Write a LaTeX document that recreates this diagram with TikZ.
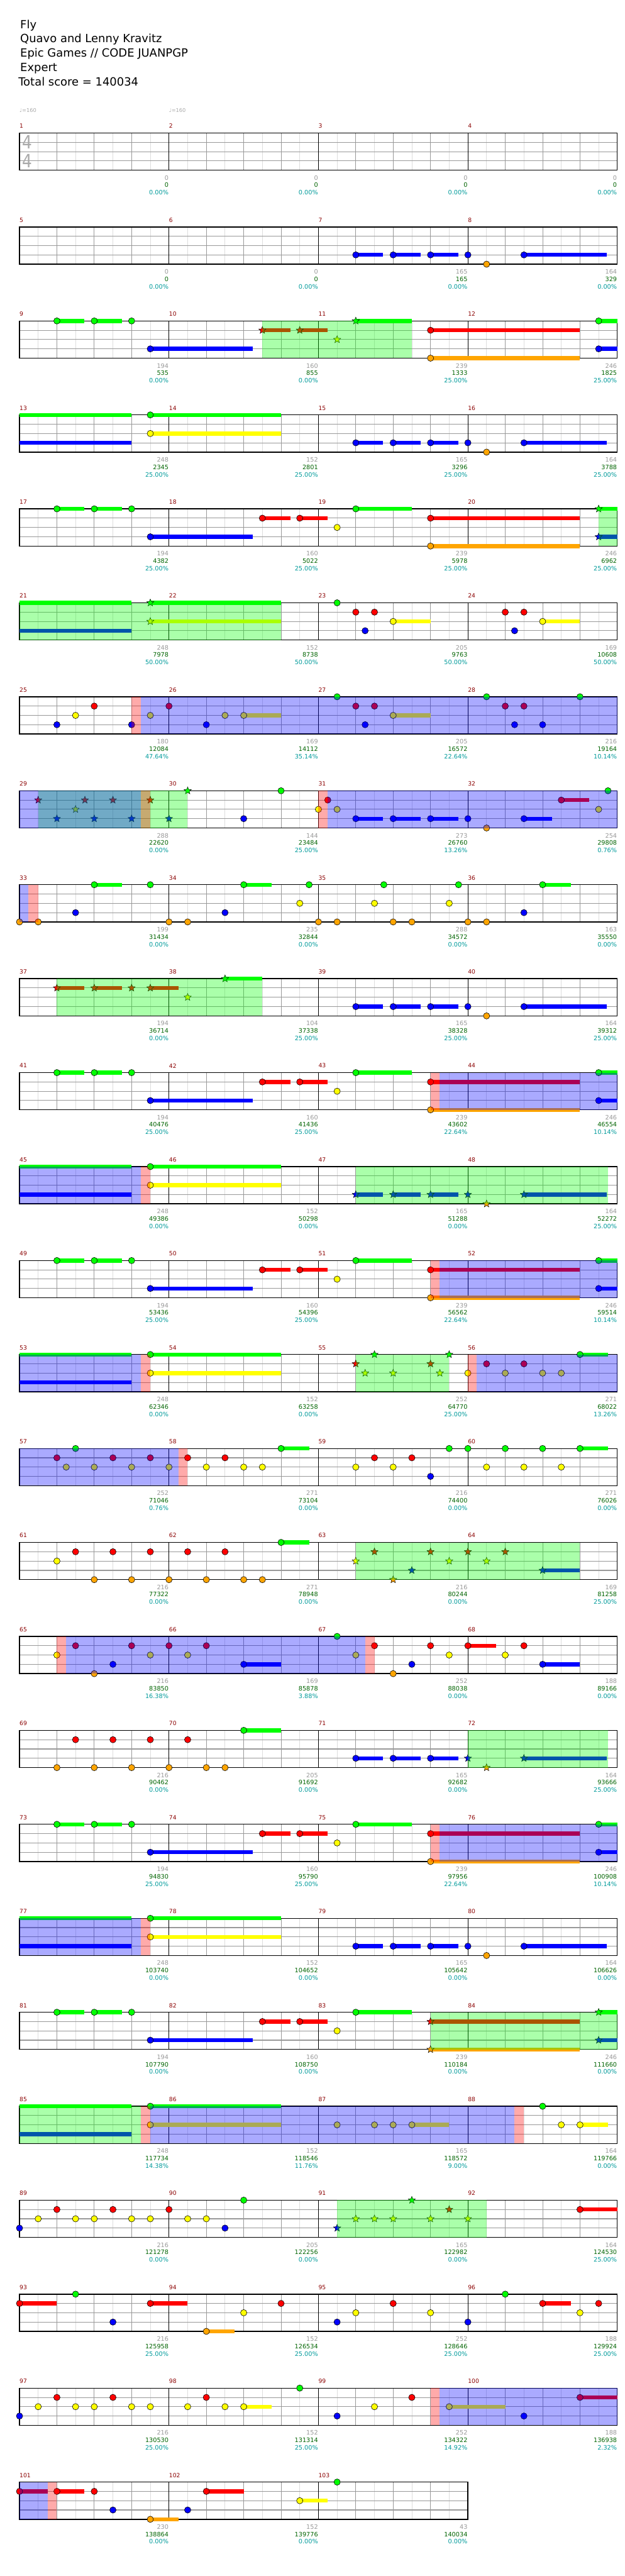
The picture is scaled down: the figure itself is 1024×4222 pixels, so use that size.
\documentclass[tikz,border=0pt]{standalone}
\usepackage{fontspec}
\setmainfont{DejaVu Sans}
\usetikzlibrary{shapes.geometric}
\definecolor{L0}{HTML}{00FF00}
\definecolor{L1}{HTML}{FF0000}
\definecolor{L2}{HTML}{FFFF00}
\definecolor{L3}{HTML}{0000FF}
\definecolor{L4}{HTML}{FFA500}
\definecolor{mred}{HTML}{8B0000}
\definecolor{ngr}{HTML}{999999}
\definecolor{ngn}{HTML}{006400}
\definecolor{ncy}{HTML}{009B9B}
\definecolor{lgrid}{HTML}{DDDDDD}
\definecolor{mgrid}{HTML}{999999}
\definecolor{tsig}{HTML}{AAAAAA}
\tikzset{
 eighthline/.style={draw=lgrid,line width=0.8pt},
 beatline/.style={draw=mgrid,line width=0.9pt},
 barline/.style={draw=black,line width=0.8pt},
 laneline/.style={draw=mgrid,line width=1.1pt},
 staffborder/.style={draw=black,line width=1.4pt},
 notestyle/.style={draw=black,line width=0.6pt},
 starnote/.style={star,star points=5,star point ratio=2.3,minimum size=12.5pt,inner sep=0pt,draw=black,line width=0.5pt},
 mlab/.style={anchor=west,inner sep=0pt,text=mred,font=\fontsize{9.5}{11}\selectfont},
 numg/.style={anchor=east,inner sep=0pt,text=ngr,font=\fontsize{10}{12}\selectfont},
 numn/.style={numg,text=ngn},
 numc/.style={numg,text=ncy},
 hdr/.style={anchor=base west,inner sep=0pt,font=\fontsize{18.5}{22}\selectfont},
 tempo/.style={anchor=west,inner sep=0pt,text=tsig,font=\fontsize{8.5}{10}\selectfont},
 tsigstyle/.style={inner sep=0pt,text=tsig,xscale=0.85,font=\fontsize{30}{30}\selectfont},
}
\newcommand\XE[1]{32+30.625*(#1)}
\newcommand\LY[1]{218+15.25*(#1)}
\newcommand\nt[2]{\draw[notestyle,fill=L#2] ({\XE{#1}},{\LY{#2}}) circle[radius=5.2pt];}
\newcommand\cont[3]{\fill[L#2] ({\XE{#1}},{\LY{#2}-3.3}) rectangle ({\XE{#3}},{\LY{#2}+3.3});}
\newcommand\ns[3]{\cont{#1}{#2}{#3}\nt{#1}{#2}}
\newcommand\st[2]{\node[starnote,fill=L#2] at ({\XE{#1}},{\LY{#2}}) {};}
\newcommand\sst[3]{\cont{#1}{#2}{#3}\st{#1}{#2}}
\newcommand\spz[2]{\fill[L0,fill opacity=0.333] ({\XE{#1}},218) rectangle ({\XE{#2}},279);}
\newcommand\act[2]{\fill[L3,fill opacity=0.333] ({\XE{#1}},218) rectangle ({\XE{#2}},279);}
\newcommand\pk[2]{\fill[L1,fill opacity=0.333] ({\XE{#1}},218) rectangle ({\XE{#2}},279);}
\newcommand\mn[4]{\node[numg] at ({32+245*#1-0.5},291.4) {#2};\node[numn] at ({32+245*#1-0.5},303.4) {#3};\node[numc] at ({32+245*#1-0.5},315.7) {#4\%};}
\newcommand\bluerun{\ns{18}{3}{19.46}\ns{20}{3}{21.48}\ns{22}{3}{23.49}\nt{24}{3}\nt{25}{4}\ns{27}{3}{31.45}}
\newcommand\patA{\ns{2}{0}{3.46}\ns{4}{0}{5.49}\nt{6}{0}\ns{7}{3}{12.5}\ns{13}{1}{14.5}\ns{15}{1}{16.48}\nt{17}{2}\ns{18}{0}{21}}
\newcommand\staff[2]{%
 \pgfmathtruncatemacro\nE{8*#1}%
 \pgfmathtruncatemacro\nEm{8*#1-1}%
 \pgfmathtruncatemacro\nM{#1-1}%
 \foreach \i in {1,...,\nEm}{%
   \pgfmathtruncatemacro\rr{mod(\i,8)}%
   \pgfmathtruncatemacro\rb{mod(\i,2)}%
   \ifnum\rr=0 \else
     \ifnum\rb=1 \draw[eighthline] ({\XE{\i}},218) -- ({\XE{\i}},279);%
     \else \draw[beatline] ({\XE{\i}},218) -- ({\XE{\i}},279);\fi
   \fi}%
 \foreach \l in {1,2,3}{\draw[laneline] (32,{\LY{\l}}) -- ({\XE{\nE}},{\LY{\l}});}%
 \foreach \j in {1,...,\nM}{\draw[barline] ({32+245*\j},218) -- ({32+245*\j},279);}%
 \draw[staffborder] (32,218) rectangle ({\XE{\nE}},279);%
 \foreach \j in {1,...,#1}{\pgfmathtruncatemacro\mm{#2+\j-1}\node[mlab] at ({32+245*(\j-1)},206.7) {\mm};}%
}
\begin{document}
\begin{tikzpicture}[x=1pt,y=-1pt]
\fill[white] (0,0) rectangle (1024,4222);
\useasboundingbox (0,0) rectangle (1024,4222);
\node[hdr] at (33,46.7) {Fly};
\node[hdr] at (33,70) {Quavo and Lenny Kravitz};
\node[hdr] at (33,93.5) {Epic Games // CODE JUANPGP};
\node[hdr] at (33,117) {Expert};
\node[hdr] at (30,140.5) {Total score = 140034};
\node[tempo] at (32,181) {♩=160};
\node[tempo] at (277,181) {♩=160};
% row 0
\begin{scope}[shift={(0,0)}]\staff{4}{1}
\node[tsigstyle] at (45,233) {4};\node[tsigstyle] at (45,264) {4};
\mn{1}{0}{0}{0.00}\mn{2}{0}{0}{0.00}\mn{3}{0}{0}{0.00}\mn{4}{0}{0}{0.00}
\end{scope}
% row 1
\begin{scope}[shift={(0,154)}]\staff{4}{5}
\bluerun
\mn{1}{0}{0}{0.00}\mn{2}{0}{0}{0.00}\mn{3}{165}{165}{0.00}\mn{4}{164}{329}{0.00}
\end{scope}
% row 2
\begin{scope}[shift={(0,308)}]\staff{4}{9}
\ns{2}{0}{3.46}\ns{4}{0}{5.49}\nt{6}{0}\ns{7}{3}{12.5}
\sst{13}{1}{14.5}\sst{15}{1}{16.48}\st{17}{2}\sst{18}{0}{21}
\ns{22}{1}{30}\ns{22}{4}{30}\ns{31}{0}{32}\ns{31}{3}{32}
\spz{13}{21}
\mn{1}{194}{535}{0.00}\mn{2}{160}{855}{0.00}\mn{3}{239}{1333}{25.00}\mn{4}{246}{1825}{25.00}
\end{scope}
% row 3
\begin{scope}[shift={(0,462)}]\staff{4}{13}
\cont{0}{0}{6}\cont{0}{3}{6}\ns{7}{0}{14}\ns{7}{2}{14}
\bluerun
\mn{1}{248}{2345}{25.00}\mn{2}{152}{2801}{25.00}\mn{3}{165}{3296}{25.00}\mn{4}{164}{3788}{25.00}
\end{scope}
% row 4
\begin{scope}[shift={(0,616)}]\staff{4}{17}
\patA
\ns{22}{1}{30}\ns{22}{4}{30}\sst{31}{0}{32}\sst{31}{3}{32}
\spz{31}{32}
\mn{1}{194}{4382}{25.00}\mn{2}{160}{5022}{25.00}\mn{3}{239}{5978}{25.00}\mn{4}{246}{6962}{25.00}
\end{scope}
% row 5
\begin{scope}[shift={(0,770)}]\staff{4}{21}
\cont{0}{0}{6}\cont{0}{3}{6}\sst{7}{0}{14}\sst{7}{2}{14}
\nt{17}{0}\nt{18}{1}\nt{19}{1}\nt{18.5}{3}\ns{20}{2}{22}
\nt{26}{1}\nt{27}{1}\nt{26.5}{3}\ns{28}{2}{30}
\spz{0}{14}
\mn{1}{248}{7978}{50.00}\mn{2}{152}{8738}{50.00}\mn{3}{205}{9763}{50.00}\mn{4}{169}{10608}{50.00}
\end{scope}
% row 6
\begin{scope}[shift={(0,924)}]\staff{4}{25}
\nt{2}{3}\nt{3}{2}\nt{4}{1}\nt{6}{3}\nt{7}{2}\nt{8}{1}\nt{10}{3}\nt{11}{2}\ns{12}{2}{14}
\nt{17}{0}\nt{18}{1}\nt{19}{1}\nt{18.5}{3}\ns{20}{2}{22}
\nt{25}{0}\nt{26}{1}\nt{27}{1}\nt{26.5}{3}\nt{28}{3}\nt{30}{0}
\pk{6}{6.48}\act{6.48}{32}
\mn{1}{180}{12084}{47.64}\mn{2}{169}{14112}{35.14}\mn{3}{205}{16572}{22.64}\mn{4}{216}{19164}{10.14}
\end{scope}
% row 7
\begin{scope}[shift={(0,1078)}]\staff{4}{29}
\st{1}{1}\st{2}{3}\st{3}{2}\st{3.5}{1}\st{4}{3}\st{5}{1}\st{6}{3}\st{7}{1}\st{8}{3}\st{9}{0}
\nt{12}{3}\nt{14}{0}\nt{16}{2}\nt{16.5}{1}\nt{17}{2}
\ns{18}{3}{19.46}\ns{20}{3}{21.48}\ns{22}{3}{23.49}\nt{24}{3}\nt{25}{4}\ns{27}{3}{28.5}\ns{29}{1}{30.5}\nt{31}{2}\nt{31.5}{0}
\spz{1}{9}\act{0}{6.5}\pk{6.5}{7}\pk{16}{16.48}\act{16.48}{32}
\mn{1}{288}{22620}{0.00}\mn{2}{144}{23484}{25.00}\mn{3}{273}{26760}{13.26}\mn{4}{254}{29808}{0.76}
\end{scope}
% row 8
\begin{scope}[shift={(0,1232)}]\staff{4}{33}
\nt{0}{4}\nt{1}{4}\nt{3}{3}\ns{4}{0}{5.49}\nt{7}{0}\nt{8}{4}\nt{9}{4}\nt{11}{3}\ns{12}{0}{13.5}
\nt{15}{2}\nt{15.5}{0}\nt{16}{4}\nt{17}{4}\nt{19}{2}\nt{19.5}{0}\nt{20}{4}\nt{21}{4}
\nt{23}{2}\nt{23.5}{0}\nt{24}{4}\nt{25}{4}\nt{27}{3}\ns{28}{0}{29.5}
\act{0}{0.48}\pk{0.48}{1}
\mn{1}{199}{31434}{0.00}\mn{2}{235}{32844}{0.00}\mn{3}{288}{34572}{0.00}\mn{4}{163}{35550}{0.00}
\end{scope}
% row 9
\begin{scope}[shift={(0,1386)}]\staff{4}{37}
\sst{2}{1}{3.46}\sst{4}{1}{5.49}\st{6}{1}\sst{7}{1}{8.5}\st{9}{2}\sst{11}{0}{13}
\bluerun
\spz{2}{13}
\mn{1}{194}{36714}{0.00}\mn{2}{104}{37338}{25.00}\mn{3}{165}{38328}{25.00}\mn{4}{164}{39312}{25.00}
\end{scope}
% row 10
\begin{scope}[shift={(0,1540)}]\staff{4}{41}
\patA
\ns{22}{1}{30}\ns{22}{4}{30}\ns{31}{0}{32}\ns{31}{3}{32}
\pk{22}{22.48}\act{22.48}{32}
\mn{1}{194}{40476}{25.00}\mn{2}{160}{41436}{25.00}\mn{3}{239}{43602}{22.64}\mn{4}{246}{46554}{10.14}
\end{scope}
% row 11
\begin{scope}[shift={(0,1694)}]\staff{4}{45}
\cont{0}{0}{6}\cont{0}{3}{6}\ns{7}{0}{14}\ns{7}{2}{14}
\sst{18}{3}{19.46}\sst{20}{3}{21.48}\sst{22}{3}{23.49}\st{24}{3}\st{25}{4}\sst{27}{3}{31.45}
\act{0}{6.5}\pk{6.5}{7}\spz{18}{31.5}
\mn{1}{248}{49386}{0.00}\mn{2}{152}{50298}{0.00}\mn{3}{165}{51288}{0.00}\mn{4}{164}{52272}{25.00}
\end{scope}
% row 12
\begin{scope}[shift={(0,1848)}]\staff{4}{49}
\patA
\ns{22}{1}{30}\ns{22}{4}{30}\ns{31}{0}{32}\ns{31}{3}{32}
\pk{22}{22.48}\act{22.48}{32}
\mn{1}{194}{53436}{25.00}\mn{2}{160}{54396}{25.00}\mn{3}{239}{56562}{22.64}\mn{4}{246}{59514}{10.14}
\end{scope}
% row 13
\begin{scope}[shift={(0,2002)}]\staff{4}{53}
\cont{0}{0}{6}\cont{0}{3}{6}\ns{7}{0}{14}\ns{7}{2}{14}
\st{18}{1}\st{18.5}{2}\st{19}{0}\st{20}{2}\st{22}{1}\st{22.5}{2}\st{23}{0}
\nt{24}{2}\nt{25}{1}\nt{26}{2}\nt{27}{1}\nt{28}{2}\nt{29}{2}\ns{30}{0}{31.5}
\act{0}{6.5}\pk{6.5}{7}\spz{18}{23}\pk{24}{24.48}\act{24.48}{32}
\mn{1}{248}{62346}{0.00}\mn{2}{152}{63258}{0.00}\mn{3}{252}{64770}{25.00}\mn{4}{271}{68022}{13.26}
\end{scope}
% row 14
\begin{scope}[shift={(0,2156)}]\staff{4}{57}
\nt{2}{1}\nt{2.5}{2}\nt{3}{0}\nt{4}{2}\nt{5}{1}\nt{6}{2}\nt{7}{1}\nt{8}{2}\nt{9}{1}\nt{10}{2}\nt{11}{1}\nt{12}{2}\nt{13}{2}\ns{14}{0}{15.5}
\nt{18}{2}\nt{19}{1}\nt{20}{2}\nt{21}{1}\nt{22}{3}\nt{23}{0}\nt{24}{0}\nt{25}{2}\nt{26}{0}\nt{27}{2}\nt{28}{0}\nt{29}{2}\ns{30}{0}{31.5}
\act{0}{8.5}\pk{8.5}{9}
\mn{1}{252}{71046}{0.76}\mn{2}{271}{73104}{0.00}\mn{3}{216}{74400}{0.00}\mn{4}{271}{76026}{0.00}
\end{scope}
% row 15
\begin{scope}[shift={(0,2310)}]\staff{4}{61}
\nt{2}{2}\nt{3}{1}\nt{4}{4}\nt{5}{1}\nt{6}{4}\nt{7}{1}\nt{8}{4}\nt{9}{1}\nt{10}{4}\nt{11}{1}\nt{12}{4}\nt{13}{4}\ns{14}{0}{15.5}
\st{18}{2}\st{19}{1}\st{20}{4}\st{21}{3}\st{22}{1}\st{23}{2}\st{24}{1}\st{25}{2}\st{26}{1}\sst{28}{3}{30}
\spz{18}{30}
\mn{1}{216}{77322}{0.00}\mn{2}{271}{78948}{0.00}\mn{3}{216}{80244}{0.00}\mn{4}{169}{81258}{25.00}
\end{scope}
% row 16
\begin{scope}[shift={(0,2464)}]\staff{4}{65}
\nt{2}{2}\nt{3}{1}\nt{4}{4}\nt{5}{3}\nt{6}{1}\nt{7}{2}\nt{8}{1}\nt{9}{2}\nt{10}{1}\ns{12}{3}{14}
\nt{17}{0}\nt{18}{2}\nt{19}{1}\nt{20}{4}\nt{21}{3}\nt{22}{1}\nt{23}{2}\ns{24}{1}{25.5}\nt{26}{2}\nt{27}{1}\ns{28}{3}{30}
\pk{2}{2.48}\act{2.48}{18.5}\pk{18.5}{19}
\mn{1}{216}{83850}{16.38}\mn{2}{169}{85878}{3.88}\mn{3}{252}{88038}{0.00}\mn{4}{188}{89166}{0.00}
\end{scope}
% row 17
\begin{scope}[shift={(0,2618)}]\staff{4}{69}
\nt{2}{4}\nt{3}{1}\nt{4}{4}\nt{5}{1}\nt{6}{4}\nt{7}{1}\nt{8}{4}\nt{9}{1}\nt{10}{4}\nt{11}{4}\ns{12}{0}{14}
\ns{18}{3}{19.46}\ns{20}{3}{21.48}\ns{22}{3}{23.49}\st{24}{3}\st{25}{4}\sst{27}{3}{31.45}
\spz{24}{31.5}
\mn{1}{216}{90462}{0.00}\mn{2}{205}{91692}{0.00}\mn{3}{165}{92682}{0.00}\mn{4}{164}{93666}{25.00}
\end{scope}
% row 18
\begin{scope}[shift={(0,2772)}]\staff{4}{73}
\patA
\ns{22}{1}{30}\ns{22}{4}{30}\ns{31}{0}{32}\ns{31}{3}{32}
\pk{22}{22.48}\act{22.48}{32}
\mn{1}{194}{94830}{25.00}\mn{2}{160}{95790}{25.00}\mn{3}{239}{97956}{22.64}\mn{4}{246}{100908}{10.14}
\end{scope}
% row 19
\begin{scope}[shift={(0,2926)}]\staff{4}{77}
\cont{0}{0}{6}\cont{0}{3}{6}\ns{7}{0}{14}\ns{7}{2}{14}
\bluerun
\act{0}{6.5}\pk{6.5}{7}
\mn{1}{248}{103740}{0.00}\mn{2}{152}{104652}{0.00}\mn{3}{165}{105642}{0.00}\mn{4}{164}{106626}{0.00}
\end{scope}
% row 20
\begin{scope}[shift={(0,3080)}]\staff{4}{81}
\patA
\sst{22}{1}{30}\sst{22}{4}{30}\sst{31}{0}{32}\sst{31}{3}{32}
\spz{22}{32}
\mn{1}{194}{107790}{0.00}\mn{2}{160}{108750}{0.00}\mn{3}{239}{110184}{0.00}\mn{4}{246}{111660}{0.00}
\end{scope}
% row 21
\begin{scope}[shift={(0,3234)}]\staff{4}{85}
\cont{0}{0}{6}\cont{0}{3}{6}\ns{7}{0}{14}\ns{7}{2}{14}
\nt{17}{2}\nt{19}{2}\nt{20}{2}\ns{21}{2}{23}\nt{28}{0}\nt{29}{2}\ns{30}{2}{31.5}
\spz{0}{6.5}\pk{6.5}{7}\act{7}{26.5}\pk{26.5}{27}
\mn{1}{248}{117734}{14.38}\mn{2}{152}{118546}{11.76}\mn{3}{165}{118572}{9.00}\mn{4}{164}{119766}{0.00}
\end{scope}
% row 22
\begin{scope}[shift={(0,3388)}]\staff{4}{89}
\nt{0}{3}\nt{1}{2}\nt{2}{1}\nt{3}{2}\nt{4}{2}\nt{5}{1}\nt{6}{2}\nt{7}{2}\nt{8}{1}\nt{9}{2}\nt{10}{2}\nt{11}{3}\nt{12}{0}
\st{17}{3}\st{18}{2}\st{19}{2}\st{20}{2}\st{21}{0}\st{22}{2}\st{23}{1}\st{24}{2}\ns{30}{1}{32}
\spz{17}{25}
\mn{1}{216}{121278}{0.00}\mn{2}{205}{122256}{0.00}\mn{3}{165}{122982}{0.00}\mn{4}{164}{124530}{25.00}
\end{scope}
% row 23
\begin{scope}[shift={(0,3542)}]\staff{4}{93}
\ns{0}{1}{2}\nt{3}{0}\nt{5}{3}\ns{7}{1}{9}\ns{10}{4}{11.5}\nt{12}{2}\nt{14}{1}
\nt{17}{3}\nt{18}{2}\nt{20}{1}\nt{22}{2}\nt{24}{3}\nt{26}{0}\ns{28}{1}{29.5}\nt{30}{2}\nt{31}{1}
\mn{1}{216}{125958}{25.00}\mn{2}{152}{126534}{25.00}\mn{3}{252}{128646}{25.00}\mn{4}{188}{129924}{25.00}
\end{scope}
% row 24
\begin{scope}[shift={(0,3696)}]\staff{4}{97}
\nt{0}{3}\nt{1}{2}\nt{2}{1}\nt{3}{2}\nt{4}{2}\nt{5}{1}\nt{6}{2}\nt{7}{2}\nt{9}{2}\nt{10}{1}\nt{11}{2}\ns{12}{2}{13.5}\nt{15}{0}
\nt{17}{3}\nt{19}{2}\nt{21}{1}\ns{23}{2}{26}\nt{27}{3}\ns{30}{1}{32}
\pk{22}{22.48}\act{22.48}{32}
\mn{1}{216}{130530}{25.00}\mn{2}{152}{131314}{25.00}\mn{3}{252}{134322}{14.92}\mn{4}{188}{136938}{2.32}
\end{scope}
% row 25
\begin{scope}[shift={(0,3850)}]\staff{3}{101}
\ns{0}{1}{1.5}\ns{2}{1}{3.46}\nt{4}{1}\nt{5}{3}\ns{7}{4}{8.5}\nt{9}{3}\ns{10}{1}{12}\ns{15}{2}{16.5}\nt{17}{0}
\act{0}{1.5}\pk{1.5}{2}
\mn{1}{230}{138864}{0.00}\mn{2}{152}{139776}{0.00}\mn{3}{43}{140034}{0.00}
\end{scope}
\end{tikzpicture}
\end{document}
